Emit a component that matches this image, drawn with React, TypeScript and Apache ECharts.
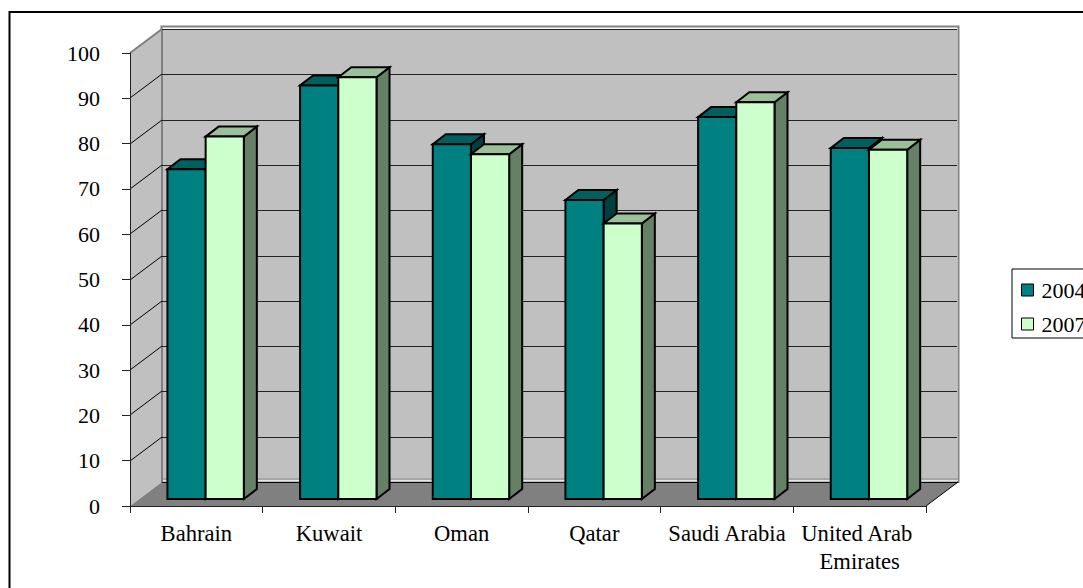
import React, { useEffect, useRef } from "react";
import * as echarts from "echarts";

const categories = ["Bahrain", "Kuwait", "Oman", "Qatar", "Saudi Arabia", "United Arab Emirates"];
const values2004 = [72.8, 91.3, 78.3, 66, 84.3, 77.5];
const values2007 = [80, 93.1, 76.1, 60.8, 87.6, 77.1];
const gridTicks = [0, 10, 20, 30, 40, 50, 60, 70, 80, 90, 100];

const FONT = "'Liberation Serif', 'Times New Roman', serif";
const DEPTH_X = 32;
const DEPTH_Y = -24;
const BAR_SHIFT_X = 9.3;
const BAR_SHIFT_Y = -7;
const BAR_DEPTH_X = 13;
const BAR_DEPTH_Y = -10;
const BAR_FRACTION = 0.288;

function wallsRenderItem(params: any, api: any) {
  const cs = params.coordSys;
  const l = cs.x;
  const r = cs.x + cs.width;
  const y0 = cs.y + cs.height;
  const bl = l + DEPTH_X;
  const br = r + DEPTH_X;
  const bt = cs.y + DEPTH_Y;
  const bb = y0 + DEPTH_Y;
  const children: any[] = [
    // outer gray / white frame of the back wall
    { type: "rect", shape: { x: bl - 0.5, y: bt - 2.5, width: br - bl + 1, height: bb - bt + 2.5 }, style: { fill: "#ffffff", stroke: "#808080", lineWidth: 2 } },
    { type: "rect", shape: { x: bl + 1, y: bt, width: br - bl - 2, height: bb - bt }, style: { fill: "#C0C0C0" } },
    { type: "line", shape: { x1: bl, y1: bb - 3, x2: br, y2: bb - 3 }, style: { stroke: "#A6A6A6", lineWidth: 2 } },
    { type: "line", shape: { x1: bl, y1: bb - 1.5, x2: br, y2: bb - 1.5 }, style: { stroke: "#E4E4E4", lineWidth: 1 } },
    // side wall
    { type: "polygon", shape: { points: [[l, cs.y], [bl, bt], [bl, bb], [l, y0]] }, style: { fill: "#C0C0C0" } },
    { type: "line", shape: { x1: l, y1: cs.y, x2: bl, y2: bt }, style: { stroke: "#808080", lineWidth: 2 } },
    { type: "line", shape: { x1: bl, y1: bt, x2: bl, y2: bb }, style: { stroke: "#808080", lineWidth: 2 } },
    // floor
    { type: "polygon", shape: { points: [[l, y0], [r, y0], [br, bb], [bl, bb]] }, style: { fill: "#808080" } },
    { type: "line", shape: { x1: r, y1: y0, x2: br, y2: bb }, style: { stroke: "#000", lineWidth: 1 } },
  ];
  gridTicks.forEach((t) => {
    const y = Math.round(api.coord([0, t])[1]);
    if (t > 0 && t < 100) {
      children.push({ type: "line", shape: { x1: l, y1: y, x2: bl, y2: y + DEPTH_Y }, style: { stroke: "#000", lineWidth: 1 } });
    }
    children.push({ type: "line", shape: { x1: bl, y1: y + DEPTH_Y + 0.5, x2: br - 1, y2: y + DEPTH_Y + 0.5 }, style: { stroke: t === 0 ? "#000" : "#222", lineWidth: 1 } });
  });
  return { type: "group", children };
}

function barRender(side: number, front: string, top: string, dark: string) {
  return (params: any, api: any) => {
    const i = api.value(0);
    const v = api.value(1);
    const c = api.coord([i, v]);
    const base = api.coord([i, 0]);
    const w = api.size([1, 0])[0] * BAR_FRACTION;
    const x1 = c[0] + BAR_SHIFT_X + (side < 0 ? -w : 0);
    const x2 = x1 + w;
    const yT = c[1] + BAR_SHIFT_Y;
    const yB = base[1] + BAR_SHIFT_Y;
    const dx = BAR_DEPTH_X;
    const dy = BAR_DEPTH_Y;
    const stroke = { stroke: "#000", lineWidth: 2, lineJoin: "miter" };
    return {
      type: "group",
      children: [
        { type: "polygon", shape: { points: [[x2, yT], [x2 + dx, yT + dy], [x2 + dx, yB + dy], [x2, yB]] }, style: { fill: dark, ...stroke } },
        { type: "polygon", shape: { points: [[x1, yT], [x1 + dx, yT + dy], [x2 + dx, yT + dy], [x2, yT]] }, style: { fill: top, ...stroke } },
        { type: "rect", shape: { x: x1, y: yT, width: w, height: yB - yT }, style: { fill: front, ...stroke } },
      ],
    };
  };
}

export default function App() {
  const ref = useRef<HTMLDivElement>(null);
  useEffect(() => {
    document.body.style.margin = "0";
    const chart = echarts.init(ref.current!, undefined, { renderer: "svg" });
    const encode = { x: 0, y: 1 };
    chart.setOption({
      animation: false,
      backgroundColor: "#ffffff",
      textStyle: { fontFamily: FONT },
      graphic: [
        {
          type: "rect",
          z: -10,
          shape: { x: 9.5, y: 12, width: 1200, height: 700 },
          style: { fill: "none", stroke: "#000", lineWidth: 2 },
        },
      ],
      legend: {
        left: 1012,
        top: 269,
        orient: "vertical",
        padding: [8.5, 30, 1.5, 9],
        itemGap: 9,
        itemWidth: 12,
        itemHeight: 12,
        icon: "rect",
        borderColor: "#000",
        borderWidth: 1,
        backgroundColor: "#fff",
        itemStyle: { borderColor: "#000", borderWidth: 1 },
        textStyle: { fontFamily: FONT, fontSize: 22, color: "#000", padding: [0, 0, 0, 3], lineHeight: 25 },
        data: [
          { name: "2004", itemStyle: { color: "#008080" } },
          { name: "2007", itemStyle: { color: "#CCFFCC" } },
        ],
      },
      grid: { left: 130, right: 157, top: 53, bottom: 82, containLabel: false },
      xAxis: {
        type: "category",
        data: categories,
        z: 10,
        axisLine: { lineStyle: { color: "#222", width: 1 } },
        axisTick: { show: true, length: 7, lineStyle: { color: "#222" } },
        axisLabel: {
          interval: 0,
          margin: 13,
          fontFamily: FONT,
          fontSize: 22.6,
          color: "#000",
          lineHeight: 28,
          width: 128,
          overflow: "break",
        },
      },
      yAxis: {
        type: "value",
        min: 0,
        max: 100,
        interval: 10,
        z: 10,
        splitLine: { show: false },
        axisLine: { show: true, lineStyle: { color: "#222", width: 1 } },
        axisTick: { show: true, length: 8, lineStyle: { color: "#222" } },
        axisLabel: { margin: 30, fontFamily: FONT, fontSize: 22, color: "#000", padding: [3, 0, 0, 0] },
      },
      series: [
        {
          type: "custom",
          name: "walls",
          silent: true,
          z: 1,
          clip: false,
          renderItem: wallsRenderItem,
          data: [[0, 0]],
          encode,
        },
        {
          type: "custom",
          name: "2004",
          z: 2,
          clip: false,
          itemStyle: { color: "#008080" },
          renderItem: barRender(-1, "#008080", "#006060", "#004040"),
          data: values2004.map((v, i) => [i, v]),
          encode,
        },
        {
          type: "custom",
          name: "2007",
          z: 3,
          clip: false,
          itemStyle: { color: "#CCFFCC" },
          renderItem: barRender(1, "#CCFFCC", "#99C099", "#668066"),
          data: values2007.map((v, i) => [i, v]),
          encode,
        },
      ],
    });
    return () => chart.dispose();
  }, []);
  return <div ref={ref} style={{ position: "absolute", left: 0, top: 0, width: 1083, height: 588, overflow: "hidden" }} />;
}
